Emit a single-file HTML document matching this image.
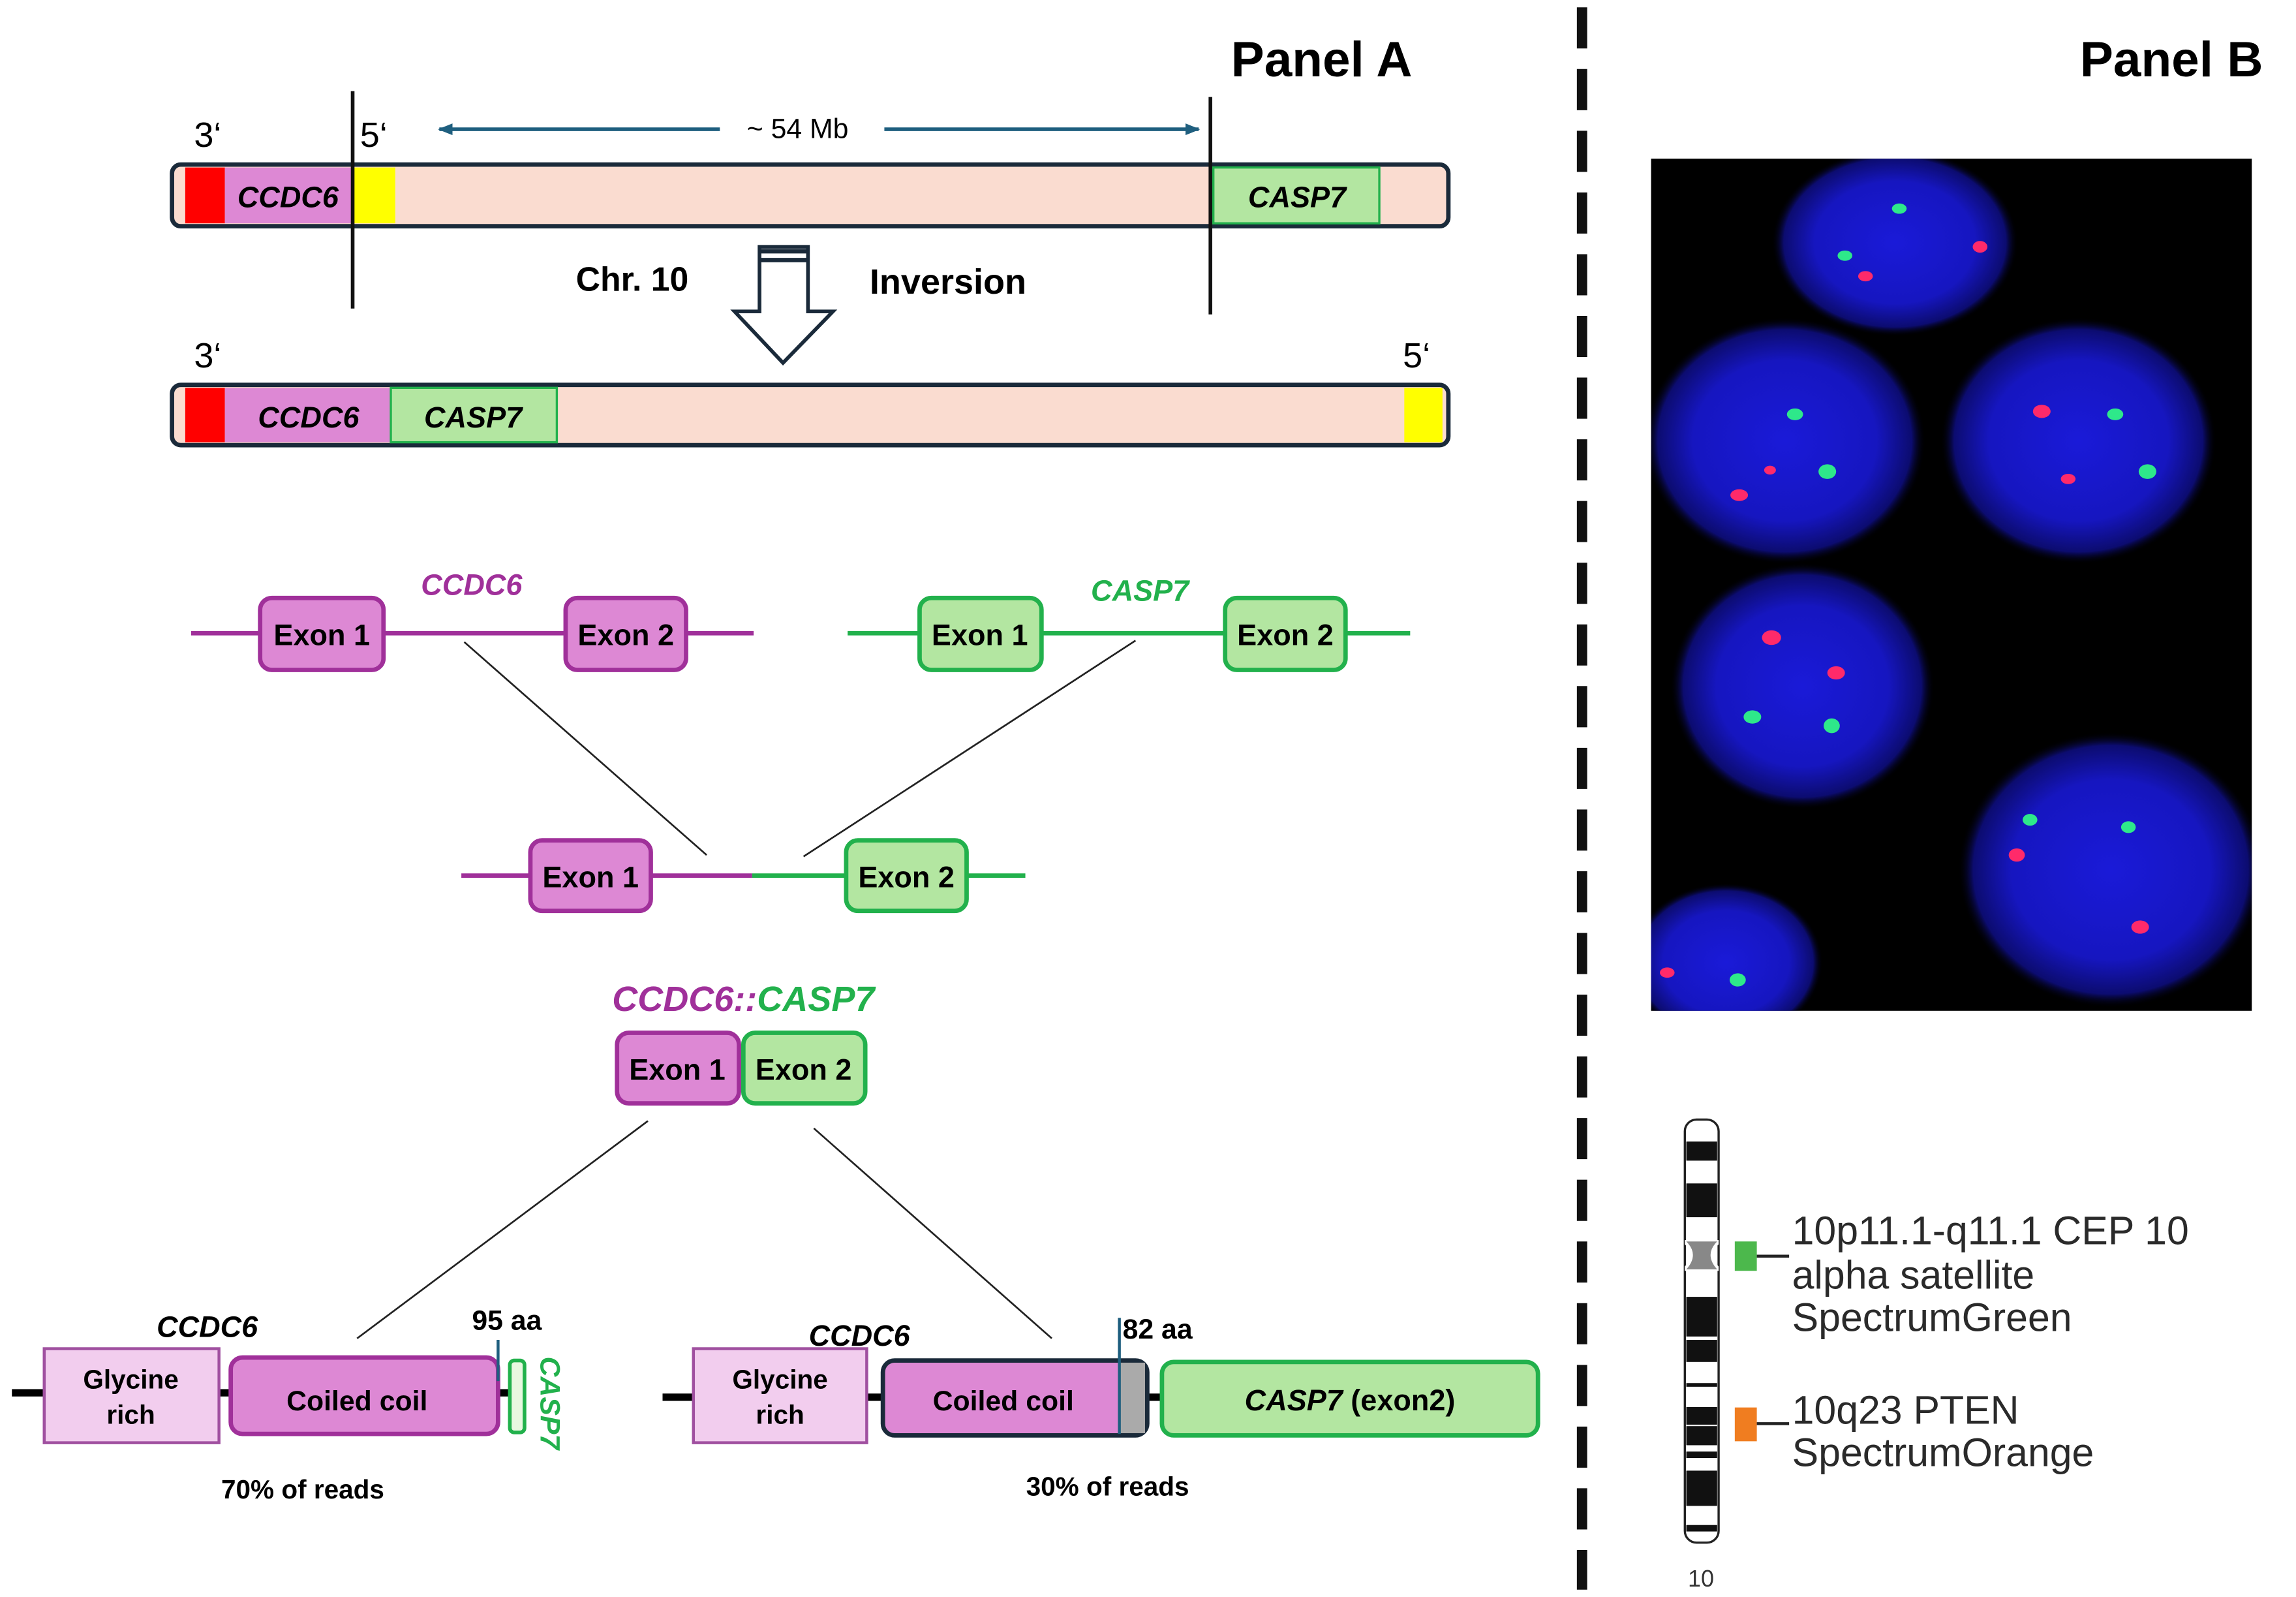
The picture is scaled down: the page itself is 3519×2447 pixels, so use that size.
<!DOCTYPE html>
<html><head><meta charset="utf-8"><style>
html,body{margin:0;padding:0;background:#fff;}
svg{display:block;}
text{font-family:"Liberation Sans",Arial,sans-serif;}
</style></head><body>
<svg width="3519" height="2447" viewBox="0 0 1563 1087" xmlns="http://www.w3.org/2000/svg">
<defs>
<radialGradient id="nuc" cx="50%" cy="50%" r="50%">
<stop offset="0%" stop-color="#1a1ad8"/><stop offset="65%" stop-color="#1616c0"/><stop offset="90%" stop-color="#0c0c70"/><stop offset="100%" stop-color="#000" stop-opacity="0"/>
</radialGradient>
<marker id="ah" markerWidth="10" markerHeight="8" refX="9" refY="4" orient="auto" markerUnits="userSpaceOnUse"><path d="M0,0 L10,4 L0,8 z" fill="#1f5f7f"/></marker>
<clipPath id="fishclip"><rect x="1124" y="108" width="409" height="580"/></clipPath>
</defs>
<rect width="1563" height="1087" fill="#fff"/>

<text x="838" y="52" font-size="34" font-weight="bold">Panel A</text>
<text x="1416" y="52" font-size="34" font-weight="bold">Panel B</text>
<line x1="1077" y1="5" x2="1077" y2="1082" stroke="#111" stroke-width="7" stroke-dasharray="28,14"/>

<rect x="117" y="112" width="869" height="42" rx="6" fill="#fadcd0" stroke="#1a2a3a" stroke-width="3"/>
<rect x="126" y="114" width="27" height="38" fill="#f00"/>
<rect x="153" y="114" width="87" height="38" fill="#dd88d4"/>
<rect x="240" y="114" width="29" height="38" fill="#ff0"/>
<rect x="826" y="114" width="113" height="38" fill="#b3e6a1" stroke="#22b14c" stroke-width="1.5"/>
<text x="196" y="141" font-size="20" font-weight="bold" font-style="italic" text-anchor="middle">CCDC6</text>
<text x="883" y="141" font-size="20" font-weight="bold" font-style="italic" text-anchor="middle">CASP7</text>
<line x1="240" y1="62" x2="240" y2="210" stroke="#111" stroke-width="2.5"/>
<line x1="824" y1="66" x2="824" y2="214" stroke="#111" stroke-width="2.5"/>
<text x="132" y="100" font-size="24">3‘</text>
<text x="245" y="100" font-size="24">5‘</text>
<line x1="490" y1="88" x2="299" y2="88" stroke="#1f5f7f" stroke-width="2.5" marker-end="url(#ah)"/>
<line x1="602" y1="88" x2="816" y2="88" stroke="#1f5f7f" stroke-width="2.5" marker-end="url(#ah)"/>
<text x="543" y="94" font-size="19" text-anchor="middle">~ 54 Mb</text>
<text x="392" y="198" font-size="23" font-weight="bold">Chr. 10</text>
<text x="592" y="200" font-size="24" font-weight="bold">Inversion</text>
<path d="M517,168 L550,168 L550,212 L567,212 L533,247 L500,212 L517,212 Z" fill="#fff" stroke="#1a2a3a" stroke-width="2.5"/>
<line x1="517" y1="171" x2="550" y2="171" stroke="#1a2a3a" stroke-width="3"/>
<line x1="517" y1="177" x2="550" y2="177" stroke="#1a2a3a" stroke-width="3"/>

<rect x="117" y="262" width="869" height="41" rx="6" fill="#fadcd0" stroke="#1a2a3a" stroke-width="3"/>
<rect x="126" y="264" width="27" height="37" fill="#f00"/>
<rect x="153" y="264" width="113" height="37" fill="#dd88d4"/>
<rect x="266" y="264" width="113" height="37" fill="#b3e6a1" stroke="#22b14c" stroke-width="1.5"/>
<rect x="956" y="264" width="26" height="37" fill="#ff0"/>
<text x="210" y="291" font-size="20" font-weight="bold" font-style="italic" text-anchor="middle">CCDC6</text>
<text x="322" y="291" font-size="20" font-weight="bold" font-style="italic" text-anchor="middle">CASP7</text>
<text x="132" y="250" font-size="24">3‘</text>
<text x="955" y="250" font-size="24">5‘</text>

<line x1="130" y1="431" x2="513" y2="431" stroke="#a0309a" stroke-width="3"/>
<rect x="177" y="407" width="84" height="49" rx="8" fill="#dd88d4" stroke="#a0309a" stroke-width="3"/>
<rect x="385" y="407" width="82" height="49" rx="8" fill="#dd88d4" stroke="#a0309a" stroke-width="3"/>
<text x="219" y="439" font-size="20" font-weight="bold" text-anchor="middle">Exon 1</text>
<text x="426" y="439" font-size="20" font-weight="bold" text-anchor="middle">Exon 2</text>
<text x="321" y="405" font-size="20" font-weight="bold" font-style="italic" fill="#a0309a" text-anchor="middle">CCDC6</text>

<line x1="577" y1="431" x2="960" y2="431" stroke="#22b14c" stroke-width="3"/>
<rect x="626" y="407" width="83" height="49" rx="8" fill="#b3e6a1" stroke="#22b14c" stroke-width="3"/>
<rect x="834" y="407" width="82" height="49" rx="8" fill="#b3e6a1" stroke="#22b14c" stroke-width="3"/>
<text x="667" y="439" font-size="20" font-weight="bold" text-anchor="middle">Exon 1</text>
<text x="875" y="439" font-size="20" font-weight="bold" text-anchor="middle">Exon 2</text>
<text x="776" y="409" font-size="20" font-weight="bold" font-style="italic" fill="#22b14c" text-anchor="middle">CASP7</text>

<line x1="316" y1="437" x2="481" y2="582" stroke="#222" stroke-width="1.2"/>
<line x1="773" y1="436" x2="547" y2="583" stroke="#222" stroke-width="1.2"/>

<line x1="314" y1="596" x2="512" y2="596" stroke="#a0309a" stroke-width="3"/>
<line x1="512" y1="596" x2="698" y2="596" stroke="#22b14c" stroke-width="3"/>
<rect x="361" y="572" width="82" height="48" rx="8" fill="#dd88d4" stroke="#a0309a" stroke-width="3"/>
<rect x="576" y="572" width="82" height="48" rx="8" fill="#b3e6a1" stroke="#22b14c" stroke-width="3"/>
<text x="402" y="604" font-size="20" font-weight="bold" text-anchor="middle">Exon 1</text>
<text x="617" y="604" font-size="20" font-weight="bold" text-anchor="middle">Exon 2</text>

<text x="506" y="688" font-size="24" font-weight="bold" font-style="italic" text-anchor="middle"><tspan fill="#a0309a">CCDC6::</tspan><tspan fill="#22b14c">CASP7</tspan></text>
<rect x="420" y="703" width="83" height="48" rx="8" fill="#dd88d4" stroke="#a0309a" stroke-width="3"/>
<rect x="506" y="703" width="83" height="48" rx="8" fill="#b3e6a1" stroke="#22b14c" stroke-width="3"/>
<text x="461" y="735" font-size="20" font-weight="bold" text-anchor="middle">Exon 1</text>
<text x="547" y="735" font-size="20" font-weight="bold" text-anchor="middle">Exon 2</text>
<line x1="441" y1="763" x2="243" y2="911" stroke="#222" stroke-width="1.2"/>
<line x1="554" y1="768" x2="716" y2="911" stroke="#222" stroke-width="1.2"/>

<line x1="8" y1="948" x2="350" y2="948" stroke="#000" stroke-width="5"/>
<rect x="30" y="918" width="119" height="64" fill="#f2cdee" stroke="#a050a0" stroke-width="2"/>
<text x="89" y="945" font-size="18" font-weight="bold" text-anchor="middle">Glycine</text>
<text x="89" y="969" font-size="18" font-weight="bold" text-anchor="middle">rich</text>
<rect x="157" y="924" width="182" height="52" rx="8" fill="#dd88d4" stroke="#a0309a" stroke-width="3"/>
<text x="243" y="960" font-size="19" font-weight="bold" text-anchor="middle">Coiled coil</text>
<line x1="339" y1="912" x2="339" y2="940" stroke="#1f5f7f" stroke-width="2"/>
<rect x="347" y="926" width="10" height="49" rx="3" fill="#e8f8e0" stroke="#22b14c" stroke-width="2.5"/>
<text transform="translate(368,955) rotate(90)" font-size="19" font-weight="bold" font-style="italic" fill="#22b14c" text-anchor="middle">CASP7</text>
<text x="141" y="910" font-size="20" font-weight="bold" font-style="italic" text-anchor="middle">CCDC6</text>
<text x="345" y="905" font-size="19" font-weight="bold" text-anchor="middle">95 aa</text>
<text x="206" y="1020" font-size="18" font-weight="bold" text-anchor="middle">70% of reads</text>

<line x1="451" y1="951" x2="795" y2="951" stroke="#000" stroke-width="5"/>
<rect x="472" y="918" width="118" height="64" fill="#f2cdee" stroke="#a050a0" stroke-width="2"/>
<text x="531" y="945" font-size="18" font-weight="bold" text-anchor="middle">Glycine</text>
<text x="531" y="969" font-size="18" font-weight="bold" text-anchor="middle">rich</text>
<rect x="601" y="926" width="180" height="51" rx="8" fill="#dd88d4" stroke="#1a2a3a" stroke-width="3"/>
<rect x="762" y="927.5" width="17.5" height="48" fill="#aaa"/>
<line x1="762" y1="897" x2="762" y2="976" stroke="#1f5f7f" stroke-width="2"/>
<text x="683" y="960" font-size="19" font-weight="bold" text-anchor="middle">Coiled coil</text>
<rect x="791" y="927" width="256" height="50" rx="8" fill="#b3e6a1" stroke="#22b14c" stroke-width="3"/>
<text x="919" y="960" font-size="20" font-weight="bold" text-anchor="middle"><tspan font-style="italic">CASP7</tspan> (exon2)</text>
<text x="585" y="916" font-size="20" font-weight="bold" font-style="italic" text-anchor="middle">CCDC6</text>
<text x="788" y="911" font-size="19" font-weight="bold" text-anchor="middle">82 aa</text>
<text x="754" y="1018" font-size="18" font-weight="bold" text-anchor="middle">30% of reads</text>

<rect x="1124" y="108" width="409" height="580" fill="#000"/>
<g clip-path="url(#fishclip)">
<ellipse cx="1290" cy="165" rx="84" ry="64" fill="url(#nuc)"/>
<ellipse cx="1215" cy="300" rx="96" ry="84" fill="url(#nuc)"/>
<ellipse cx="1415" cy="300" rx="94" ry="84" fill="url(#nuc)"/>
<ellipse cx="1227" cy="467" rx="90" ry="84" fill="url(#nuc)"/>
<ellipse cx="1437" cy="592" rx="104" ry="94" fill="url(#nuc)"/>
<ellipse cx="1175" cy="655" rx="66" ry="54" fill="url(#nuc)"/>
<g fill="#2ee88a">
<ellipse cx="1293" cy="142" rx="5" ry="3.5"/><ellipse cx="1256" cy="174" rx="5" ry="3.5"/><ellipse cx="1222" cy="282" rx="5.5" ry="4"/><ellipse cx="1244" cy="321" rx="6" ry="5"/><ellipse cx="1440" cy="282" rx="5.5" ry="4"/><ellipse cx="1462" cy="321" rx="6" ry="5"/><ellipse cx="1193" cy="488" rx="6" ry="4.5"/><ellipse cx="1247" cy="494" rx="5.5" ry="5"/><ellipse cx="1382" cy="558" rx="5" ry="4"/><ellipse cx="1449" cy="563" rx="5" ry="4"/><ellipse cx="1183" cy="667" rx="5.5" ry="4.5"/>
</g>
<g fill="#ff2a6a">
<ellipse cx="1348" cy="168" rx="5" ry="4"/><ellipse cx="1270" cy="188" rx="5" ry="3.5"/><ellipse cx="1390" cy="280" rx="6" ry="4.5"/><ellipse cx="1205" cy="320" rx="4" ry="3"/><ellipse cx="1184" cy="337" rx="6" ry="4"/><ellipse cx="1408" cy="326" rx="5" ry="3.5"/><ellipse cx="1206" cy="434" rx="6.5" ry="5"/><ellipse cx="1250" cy="458" rx="6" ry="4.5"/><ellipse cx="1373" cy="582" rx="5.5" ry="4.5"/><ellipse cx="1457" cy="631" rx="6" ry="4.5"/><ellipse cx="1135" cy="662" rx="5" ry="3.5"/>
</g>
</g>

<g>
<rect x="1147" y="762" width="23" height="288" rx="8" fill="#fff" stroke="#222" stroke-width="1.5"/>
<g fill="#111">
<rect x="1148" y="777" width="21" height="13"/>
<rect x="1148" y="805.5" width="21" height="23"/>
<rect x="1148" y="882.7" width="21" height="27"/>
<rect x="1148" y="912" width="21" height="15"/>
<rect x="1148" y="941.4" width="21" height="2.5"/>
<rect x="1148" y="957.7" width="21" height="12"/>
<rect x="1148" y="970.7" width="21" height="13"/>
<rect x="1148" y="988" width="21" height="4.4"/>
<rect x="1148" y="1001" width="21" height="24"/>
<rect x="1148" y="1038" width="21" height="4.4"/>
</g>
<path d="M1147,844 L1170,844 L1170,847 Q1162,854 1170,862 L1170,865 L1147,865 L1147,862 Q1155,854 1147,847 Z" fill="#fff" stroke="none"/>
<path d="M1148,845 L1169,845 Q1160,854 1169,864 L1148,864 Q1157,854 1148,845 Z" fill="#888"/>
</g>
<rect x="1181" y="845" width="15" height="20" fill="#4cb84c"/>
<line x1="1196" y1="855" x2="1218" y2="855" stroke="#222" stroke-width="2"/>
<rect x="1181" y="958" width="15" height="23" fill="#f07d20"/>
<line x1="1196" y1="969" x2="1218" y2="969" stroke="#222" stroke-width="2"/>
<g font-size="27" fill="#2a2a2a">
<text x="1220" y="847">10p11.1-q11.1 CEP 10</text>
<text x="1220" y="877">alpha satellite</text>
<text x="1220" y="906">SpectrumGreen</text>
<text x="1220" y="969">10q23 PTEN</text>
<text x="1220" y="998">SpectrumOrange</text>
</g>
<text x="1158" y="1080" font-size="16" fill="#333" text-anchor="middle">10</text>
</svg>
</body></html>
